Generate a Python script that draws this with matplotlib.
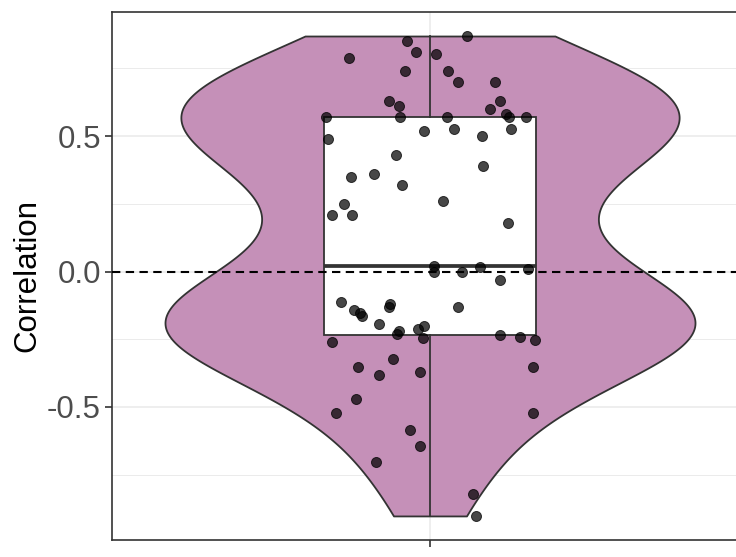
import matplotlib.pyplot as plt
import numpy as np

plt.rcParams['font.family'] = ['Liberation Sans', 'DejaVu Sans']

# correlation values, one per gene pair, and the horizontal jitter each point was drawn with
correlation = [
    0.851, 0.869, 0.811, 0.801, 0.789, 0.739, 0.739, 0.698, 0.698, 0.629,
    0.610, 0.630, 0.599, 0.570, 0.569, 0.569, 0.580, 0.570, 0.569,
    0.518, 0.527, 0.500, 0.527, 0.488, 0.430, 0.389, 0.349, 0.359, 0.318,
    0.260, 0.249, 0.210, 0.210, 0.178,
    0.020, -0.002, -0.001, 0.018, 0.008, -0.031,
    -0.113, -0.142, -0.154, -0.163, -0.121, -0.132, -0.131, -0.193, -0.218,
    -0.232, -0.211, -0.201, -0.244, -0.261, -0.233, -0.243, -0.253,
    -0.352, -0.324, -0.383, -0.372, -0.352, -0.470, -0.522, -0.522,
    -0.584, -0.643, -0.703, -0.822, -0.902,
]
jitter = [
    -0.043, 0.070, -0.026, 0.011, -0.153, -0.048, 0.034, 0.052, 0.122, -0.078,
    -0.058, 0.132, 0.113, -0.197, -0.057, 0.032, 0.143, 0.149, 0.182,
    -0.011, 0.045, 0.098, 0.152, -0.193, -0.064, 0.100, -0.149, -0.105, -0.052,
    0.025, -0.163, -0.184, -0.147, 0.147,
    0.008, 0.008, 0.060, 0.094, 0.185, 0.133,
    -0.168, -0.143, -0.133, -0.129, -0.075, -0.078, 0.052, -0.097, -0.059,
    -0.063, -0.023, -0.012, -0.013, -0.185, 0.132, 0.169, 0.199,
    -0.135, -0.070, -0.096, -0.018, 0.195, -0.140, -0.177, 0.194,
    -0.038, -0.018, -0.102, 0.082, 0.086,
]
yticks = [-0.5, 0.0, 0.5]
ytick_labels = ['-0.5', '0.0', '0.5']

vals = np.array(correlation)
xpos = 1 + np.array(jitter)

# Silverman's rule of thumb, same as R's bw.nrd0
sd = vals.std(ddof=1)
iqr = np.subtract(*np.percentile(vals, [75, 25]))
bw = 0.9 * min(sd, iqr / 1.34) * len(vals) ** -0.2

fig = plt.figure(figsize=(7.36, 5.57), dpi=100)
ax = fig.add_axes([112 / 736, 17 / 557, 636 / 736, 528 / 557])

parts = ax.violinplot(vals, positions=[1], widths=1.0, points=512,
                      bw_method=bw / sd, showextrema=False)
for body in parts['bodies']:
    body.set_facecolor('#C590B8')
    body.set_edgecolor('#333333')
    body.set_linewidth(1.3)
    body.set_alpha(1)
    body.set_zorder(2)

ax.boxplot(vals, positions=[1], widths=0.4, patch_artist=True,
           showcaps=False, showfliers=False, zorder=3,
           boxprops=dict(facecolor='white', edgecolor='#333333', linewidth=1.3),
           whiskerprops=dict(color='#333333', linewidth=1.3),
           medianprops=dict(color='#333333', linewidth=2.7))

ax.axhline(0, color='black', linewidth=1.5, linestyle=(0, (4, 2.6)), zorder=4)

ax.scatter(xpos, vals, s=52, facecolor=(0, 0, 0, 0.72), edgecolor=(0, 0, 0, 0.72),
           linewidth=0.7, zorder=5)

ax.set_xlim(0.4, 1.6)
ax.set_ylim(-0.9908, 0.9576)
ax.set_xticks([1])
ax.set_xticklabels([''])
ax.set_yticks(yticks)
ax.set_yticklabels(ytick_labels)
ax.set_yticks([-0.75, -0.25, 0.25, 0.75], minor=True)
ax.tick_params(axis='y', which='minor', length=0)
ax.tick_params(axis='both', which='major', length=5, width=1.2, color='#333333',
               labelcolor='#4D4D4D', labelsize=22.5, pad=3)

ax.grid(True, which='major', color='#EBEBEB', linewidth=1.2, zorder=0)
ax.grid(True, which='minor', axis='y', color='#EBEBEB', linewidth=0.7, zorder=0)
ax.set_axisbelow(True)
for spine in ax.spines.values():
    spine.set_color('#333333')
    spine.set_linewidth(1.2)

fig.text(27 / 736, 1 - 276 / 557, 'Correlation', rotation=90, ha='center', va='center',
         fontsize=22.5, color='black')

fig.savefig('out.png', dpi=100)
